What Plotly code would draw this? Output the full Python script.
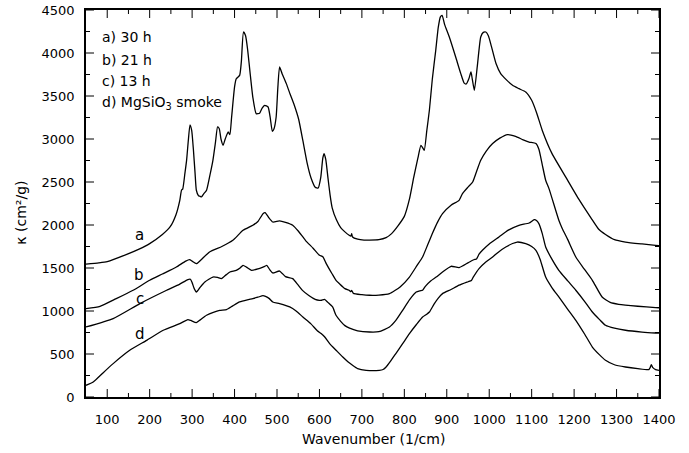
import plotly.graph_objects as go

# ---- data (wavenumber in 1/cm, kappa in cm^2/g) ----
wn_a = [50, 80, 100, 146, 175, 200, 230, 248, 262, 271, 275, 278, 283, 287, 291, 295, 299, 303, 307, 310,
        315, 318, 322, 327, 334, 342, 349, 355, 360, 364, 368, 373, 378, 385, 389, 393, 400, 404, 412, 416,
        421, 426, 431, 437, 443, 451, 459, 465, 471, 479, 484, 489, 493, 498, 502, 506, 512, 522, 531, 541,
        551, 561, 571, 580, 590, 597, 603, 608, 611, 615, 620, 625, 630, 640, 650, 660, 670, 674, 676, 678,
        690, 705, 718, 740, 757, 770, 785, 800, 812, 822, 832, 839, 843, 847, 853, 859, 866, 874, 880, 885,
        889, 895, 906, 921, 933, 941, 946, 952, 957, 960, 965, 972, 980, 986, 992, 998, 1005, 1016, 1027, 1040,
        1055, 1070, 1086, 1100, 1112, 1125, 1148, 1180, 1211, 1240, 1258, 1274, 1295, 1321, 1360, 1392, 1400]
kappa_a = [1545, 1560, 1575, 1659, 1720, 1784, 1890, 1977, 2120, 2287, 2404, 2420, 2600, 2752, 2980, 3165, 3100, 2880, 2600, 2404,
           2340, 2335, 2326, 2360, 2404, 2580, 2752, 2960, 3140, 3120, 3000, 2927, 3000, 3082, 3050, 3250, 3605, 3700, 3740, 3900,
           4244, 4200, 4031, 3750, 3488, 3295, 3300, 3360, 3392, 3372, 3250, 3090, 3120, 3256, 3600, 3837, 3760, 3644, 3520, 3390,
           3230, 2980, 2720, 2550, 2440, 2430, 2550, 2780, 2830, 2760, 2550, 2350, 2200, 2060, 1970, 1920, 1880, 1870, 1900, 1860,
           1835, 1825, 1825, 1830, 1853, 1900, 1990, 2100, 2300, 2550, 2780, 2927, 2900, 2869, 3100, 3334, 3700, 4031, 4300, 4420,
           4438, 4330, 4186, 3953, 3760, 3650, 3640, 3700, 3779, 3700, 3566, 3850, 4186, 4240, 4244, 4200, 4080, 3877, 3760, 3690,
           3624, 3585, 3547, 3450, 3300, 3100, 2830, 2560, 2300, 2080, 1950, 1890, 1830, 1802, 1780, 1764, 1760]

wn_b = [50, 83, 120, 161, 200, 230, 263, 285, 294, 300, 310, 320, 341, 370, 396, 420, 443, 455, 467, 472,
        480, 490, 506, 520, 537, 550, 567, 585, 600, 608, 616, 630, 639, 647, 660, 670, 674, 676, 680, 700,
        718, 740, 765, 790, 812, 830, 843, 855, 866, 878, 890, 910, 929, 937, 950, 961, 970, 980, 993, 1008,
        1025, 1043, 1062, 1080, 1094, 1110, 1117, 1125, 1133, 1141, 1164, 1172, 1185, 1204, 1225, 1243, 1266, 1285, 1305, 1350,
        1392, 1400]
kappa_b = [1028, 1055, 1140, 1241, 1357, 1430, 1512, 1580, 1597, 1580, 1551, 1590, 1686, 1750, 1822, 1938, 1997, 2040, 2132, 2144,
           2090, 2035, 2047, 2030, 1997, 1930, 1822, 1730, 1648, 1630, 1551, 1430, 1357, 1318, 1260, 1241, 1225, 1240, 1205, 1190,
           1183, 1185, 1202, 1280, 1395, 1530, 1628, 1770, 1900, 2030, 2132, 2230, 2287, 2365, 2440, 2500, 2620, 2752, 2860, 2947,
           3010, 3051, 3031, 2990, 2965, 2947, 2880, 2700, 2520, 2420, 2055, 1960, 1830, 1628, 1480, 1357, 1163, 1100, 1078, 1055,
           1040, 1038]

wn_c = [50, 114, 177, 240, 270, 290, 296, 300, 305, 310, 318, 330, 349, 360, 369, 380, 389, 404, 413, 420,
        428, 440, 455, 471, 476, 483, 490, 506, 520, 537, 550, 560, 575, 590, 600, 605, 612, 620, 631, 639,
        650, 660, 671, 690, 718, 740, 765, 780, 796, 812, 828, 837, 843, 850, 862, 875, 890, 910, 929, 950,
        961, 966, 970, 976, 984, 1000, 1023, 1045, 1070, 1094, 1106, 1112, 1117, 1125, 1133, 1148, 1164, 1185, 1204, 1225,
        1243, 1260, 1274, 1295, 1321, 1360, 1392, 1400]
kappa_c = [814, 912, 1086, 1241, 1310, 1365, 1369, 1330, 1260, 1221, 1270, 1337, 1395, 1390, 1376, 1420, 1453, 1473, 1500, 1531,
           1510, 1473, 1490, 1520, 1531, 1480, 1442, 1465, 1400, 1376, 1300, 1240, 1180, 1135, 1124, 1125, 1136, 1100, 1047, 950,
           880, 830, 800, 770, 756, 760, 814, 890, 1008, 1130, 1221, 1235, 1241, 1290, 1350, 1395, 1453, 1520, 1504, 1560,
           1590, 1600, 1605, 1660, 1706, 1780, 1861, 1940, 1997, 2023, 2062, 2050, 2016, 1900, 1744, 1600, 1473, 1350, 1241, 1110,
           988, 900, 834, 800, 776, 755, 744, 742]

wn_d = [50, 67, 90, 114, 153, 193, 232, 271, 290, 297, 310, 320, 334, 350, 365, 381, 396, 412, 430, 443,
        455, 467, 473, 482, 490, 506, 530, 545, 561, 580, 595, 604, 612, 624, 640, 655, 667, 678, 690, 710,
        741, 750, 757, 768, 780, 796, 812, 828, 843, 852, 859, 870, 880, 890, 910, 929, 950, 958, 962, 976,
        990, 1008, 1023, 1039, 1055, 1066, 1086, 1100, 1110, 1120, 1133, 1148, 1164, 1185, 1204, 1225, 1243, 1260, 1274, 1295,
        1321, 1350, 1376, 1379, 1382, 1385, 1392, 1400]
kappa_d = [136, 174, 280, 388, 543, 659, 776, 853, 900, 890, 865, 900, 950, 985, 1008, 1016, 1060, 1105, 1130, 1144,
           1160, 1179, 1170, 1144, 1105, 1086, 1047, 1000, 930, 850, 770, 737, 700, 621, 540, 465, 410, 369, 330, 310,
           310, 320, 349, 420, 505, 620, 737, 840, 930, 960, 988, 1080, 1150, 1202, 1250, 1300, 1340, 1355, 1390, 1493,
           1560, 1628, 1690, 1744, 1785, 1802, 1783, 1750, 1706, 1600, 1395, 1270, 1163, 1020, 892, 730, 581, 490, 427, 375,
           349, 330, 319, 340, 377, 345, 319, 310]

curve_labels = ["a", "b", "c", "d"]
curve_label_x = [177, 175, 177, 177]
curve_label_y = [1880, 1420, 1140, 735]

legend_lines = ["a) 30 h", "b) 21 h", "c) 13 h", "d) MgSiO<sub>3</sub> smoke"]
legend_y = [4186, 3915, 3671, 3420]

x_ticks = list(range(100, 1401, 100))
x_minor_ticks = list(range(150, 1400, 100))
y_ticks = list(range(0, 4501, 500))
y_minor_ticks = list(range(250, 4500, 500))

X_RANGE = [50, 1400]
Y_RANGE = [0, 4500]
FONT = "DejaVu Sans"
MAJOR_LEN = 8
MINOR_LEN = 4

fig = go.Figure()
for wx, ky in [(wn_a, kappa_a), (wn_b, kappa_b), (wn_c, kappa_c), (wn_d, kappa_d)]:
    fig.add_trace(go.Scatter(x=wx, y=ky, mode="lines",
                             line=dict(color="black", width=1.3, shape="spline", smoothing=0.5),
                             showlegend=False))

annotations = []
for t, x, y in zip(curve_labels, curve_label_x, curve_label_y):
    annotations.append(dict(x=x, y=y, text=t, showarrow=False, xref="x", yref="y",
                            font=dict(size=15)))
for t, y in zip(legend_lines, legend_y):
    annotations.append(dict(x=83, y=y, text=t, showarrow=False, xref="x", yref="y",
                            xanchor="left", yanchor="middle", font=dict(size=14)))
# axis titles
annotations.append(dict(x=(373 - 86) / 573, y=-(439 - 396.7) / 386.7, xref="paper", yref="paper",
                        text="Wavenumber (1/cm)", showarrow=False, xanchor="center", yanchor="middle",
                        font=dict(size=14)))
annotations.append(dict(x=-(86 - 21.5) / 573, y=(396.7 - 213) / 386.7, xref="paper", yref="paper",
                        text="κ (cm²/g)", showarrow=False, textangle=-90, xanchor="center", yanchor="middle",
                        font=dict(size=14)))

# inside tick marks on all four sides, placed on the axes' own scales (length in pixels)
shapes = []
tick_line = dict(color="black", width=1)
for vals, ln in [(x_ticks, MAJOR_LEN), (x_minor_ticks, MINOR_LEN)]:
    for v in vals:
        shapes.append(dict(type="line", xref="x", yref="paper", ysizemode="pixel", yanchor=0,
                           x0=v, x1=v, y0=0, y1=ln, line=tick_line, layer="above"))
        shapes.append(dict(type="line", xref="x", yref="paper", ysizemode="pixel", yanchor=1,
                           x0=v, x1=v, y0=0, y1=-ln, line=tick_line, layer="above"))
for vals, ln in [(y_ticks, MAJOR_LEN), (y_minor_ticks, MINOR_LEN)]:
    for v in vals:
        shapes.append(dict(type="line", yref="y", xref="paper", xsizemode="pixel", xanchor=0,
                           y0=v, y1=v, x0=0, x1=ln, line=tick_line, layer="above"))
        shapes.append(dict(type="line", yref="y", xref="paper", xsizemode="pixel", xanchor=1,
                           y0=v, y1=v, x0=0, x1=-ln, line=tick_line, layer="above"))

fig.update_layout(
    width=689, height=453,
    margin=dict(l=86, r=30, t=10, b=56, autoexpand=False),
    font=dict(family=FONT, size=13, color="black"),
    plot_bgcolor="white", paper_bgcolor="white",
    annotations=annotations,
    shapes=shapes,
    xaxis=dict(range=X_RANGE, tickmode="array", tickvals=x_ticks, showline=True, linecolor="black",
               linewidth=1.5, mirror=True, ticks="", showgrid=False, zeroline=False,
               ticklabelstandoff=10),
    yaxis=dict(range=Y_RANGE, tickmode="array", tickvals=y_ticks, showline=True, linecolor="black",
               linewidth=1.5, mirror=True, ticks="", showgrid=False, zeroline=False,
               ticklabelstandoff=7),
)

fig.write_html("out.html")
